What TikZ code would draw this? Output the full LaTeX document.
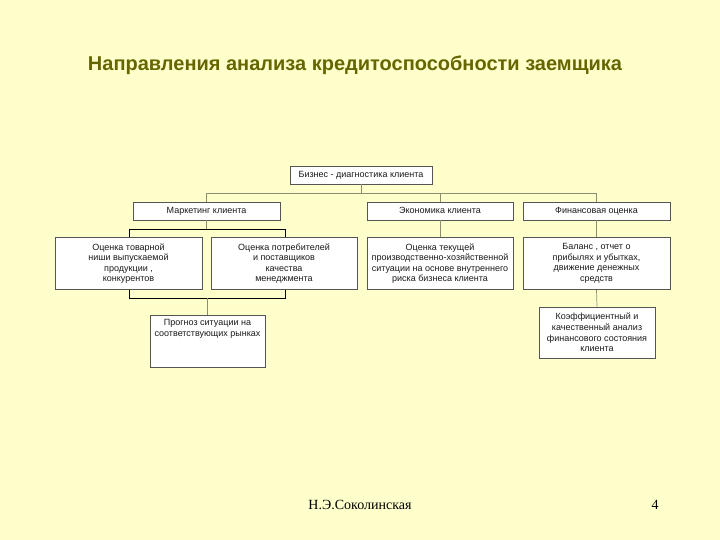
\documentclass[tikz,border=0pt]{standalone}
\usepackage{fontspec}
\setmainfont{Liberation Sans}
\newfontfamily\footserif{Liberation Serif}
\definecolor{bgc}{HTML}{FFFFCC}
\definecolor{titlec}{HTML}{666600}
\definecolor{linec}{HTML}{8C8C70}
\definecolor{boxc}{HTML}{555555}
\definecolor{textc}{HTML}{1A1A1A}
\begin{document}
\begin{tikzpicture}[x=1pt,y=-1pt,
  box/.style={draw=boxc, fill=white, line width=0.6pt, inner sep=1pt, align=center,
    font=\fontsize{9}{10.6}\selectfont, text=textc},
  onebox/.style={box, text height=6.6pt, text depth=2pt},
  conn/.style={draw=linec, line width=0.7pt}]
\fill[bgc] (0,0) rectangle (720,540);
\useasboundingbox (0,0) rectangle (720,540);
% title
\node[font=\bfseries\fontsize{20}{24}\selectfont, text=titlec] (title) at (355,65)
  {Направления анализа кредитоспособности заемщика};
% group rectangle
\node[draw=black, line width=0.9pt, minimum width=156, minimum height=69, inner sep=0] (grp) at (207,263.5) {};
% level 1
\node[onebox, minimum width=142, minimum height=18] (top) at (361,175) {Бизнес - диагностика клиента};
% level 2
\node[onebox, minimum width=147, minimum height=18] (mark) at (206.5,211) {Маркетинг клиента};
\node[onebox, minimum width=146, minimum height=18] (econ) at (440,211) {Экономика клиента};
\node[onebox, minimum width=147, minimum height=18] (fin) at (596.5,211) {Финансовая оценка};
% level 3
\node[box, minimum width=147, minimum height=52] (tov) at (128.5,263.5) {Оценка товарной\\ниши выпускаемой\\продукции ,\\конкурентов};
\node[box, minimum width=146, minimum height=52] (potr) at (284,263.5) {Оценка потребителей\\и поставщиков\\качества\\менеджмента};
\node[box, minimum width=146, minimum height=52] (tek) at (440,263.5) {Оценка текущей\\производственно-хозяйственной\\ситуации на основе внутреннего\\риска бизнеса клиента};
\node[box, minimum width=147, minimum height=52] (bal) at (596.5,263.5) {Баланс , отчет о\\прибылях и убытках,\\движение денежных\\средств};
% level 4
\node[box, minimum width=115, minimum height=52, anchor=north] (prog) at (207.5,315) {};
\node[font=\fontsize{9}{11.5}\selectfont, text=textc, align=center, anchor=north, inner sep=0] (progtxt) at ([yshift=-4]prog.north)
  {Прогноз ситуации на\\соответствующих рынках};
\node[box, minimum width=116, minimum height=51] (koef) at (597,332.5) {Коэффициентный и\\качественный анализ\\финансового состояния\\клиента};
% connectors
\coordinate (bus) at (361,193);
\draw[conn] (top.south) -- (bus);
\draw[conn] (mark.north) -- (mark.north |- bus) -- (fin.north |- bus) -- (fin.north);
\draw[conn] (econ.north) -- (econ.north |- bus);
\draw[conn] (mark.south) -- (mark.south |- grp.north);
\draw[conn] (econ.south) -- (tek.north);
\draw[conn] (fin.south) -- (bal.north);
\draw[conn] (prog.north |- grp.south) -- (prog.north);
\draw[conn] (bal.south) -- (koef.north);
% footer
\node[font=\footserif\fontsize{14}{16}\selectfont, text=black] (author) at (360,505) {Н.Э.Соколинская};
\node[font=\footserif\fontsize{14}{16}\selectfont, text=black] (page) at (655,505) {4};
\end{tikzpicture}
\end{document}
